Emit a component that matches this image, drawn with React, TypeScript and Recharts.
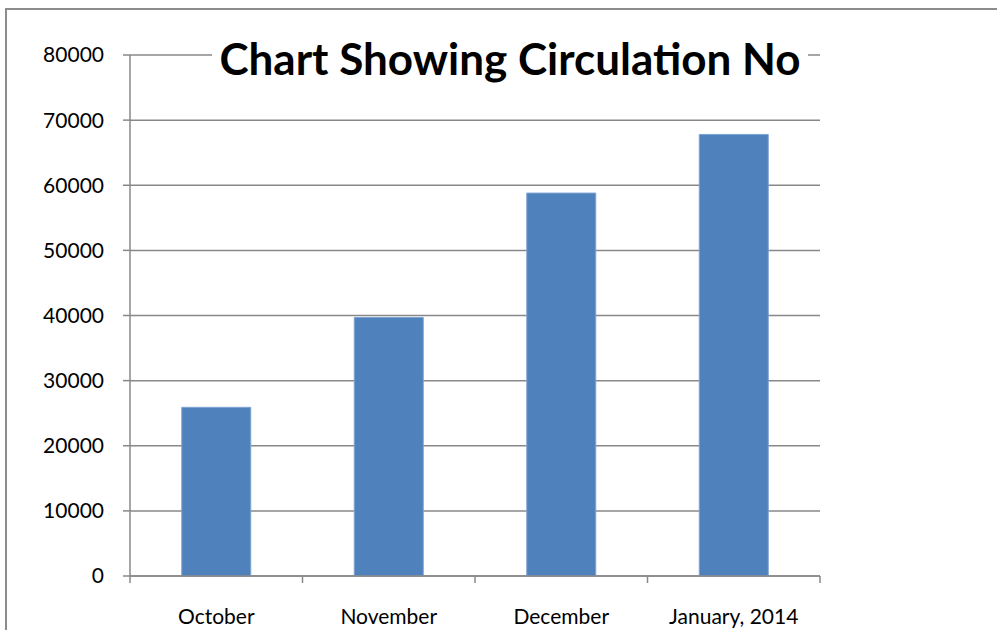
import { Bar, BarChart, CartesianGrid, XAxis, YAxis } from "recharts";

const months = ["October", "November", "December", "January, 2014"];
const circulation = [25900, 39700, 58800, 67800];
const yTicks = [0, 10000, 20000, 30000, 40000, 50000, 60000, 70000, 80000];

const chartData = months.map((month, i) => ({ month, circulation: circulation[i] }));

const W = 997;
const H = 630;
const M = { top: 55, right: 177, left: 0, bottom: 0 };
const Y_W = 130;
const band = (W - Y_W - M.right) / months.length;

const MonthTick = (props: any) => {
  const { x, y, payload, index } = props;
  return (
    <g>
      <line x1={x - band / 2} y1={y} x2={x - band / 2} y2={y + 7} stroke="#888" strokeWidth={1.5} />
      {index === months.length - 1 && (
        <line x1={x + band / 2} y1={y} x2={x + band / 2} y2={y + 7} stroke="#888" strokeWidth={1.5} />
      )}
      <text x={x} y={y + 48} textAnchor="middle" fill="#000" fontSize={21} fontFamily="Lato, sans-serif">
        {payload.value}
      </text>
    </g>
  );
};

export default function App() {
  return (
    <div style={{ position: "absolute", left: 0, top: 0, width: W, height: H, overflow: "hidden", background: "#fff" }}>
      <div
        style={{
          position: "absolute",
          left: 5,
          top: 8,
          width: W,
          height: H,
          border: "2px solid #8c8c8c",
          boxSizing: "border-box",
        }}
      />
      <BarChart width={W} height={H} data={chartData} margin={M} barCategoryGap="30%">
        <CartesianGrid vertical={false} stroke="#888" strokeWidth={1.5} />
        <XAxis
          dataKey="month"
          height={54}
          axisLine={{ stroke: "#888", strokeWidth: 1.5 }}
          tickLine={false}
          tickSize={0}
          tickMargin={0}
          tick={<MonthTick />}
          interval={0}
        />
        <YAxis
          width={Y_W}
          domain={[0, 80000]}
          ticks={yTicks}
          interval={0}
          axisLine={{ stroke: "#888", strokeWidth: 1.5 }}
          tickLine={{ stroke: "#888", strokeWidth: 1.5 }}
          tickSize={7}
          tickMargin={19}
          tick={{ fill: "#000", fontSize: 21, fontFamily: "Lato, sans-serif" }}
        />
        <Bar dataKey="circulation" fill="#4f81bd" stroke="#7fa3d3" strokeWidth={1} isAnimationActive={false} />
      </BarChart>
      <div
        style={{
          position: "absolute",
          left: 212,
          top: 31,
          width: 596,
          textAlign: "center",
          background: "#fff",
          fontFamily: "Lato, sans-serif",
          fontWeight: "bold",
          fontSize: 44,
          lineHeight: "54px",
          color: "#000",
        }}
      >
        Chart Showing Circulation No
      </div>
    </div>
  );
}
